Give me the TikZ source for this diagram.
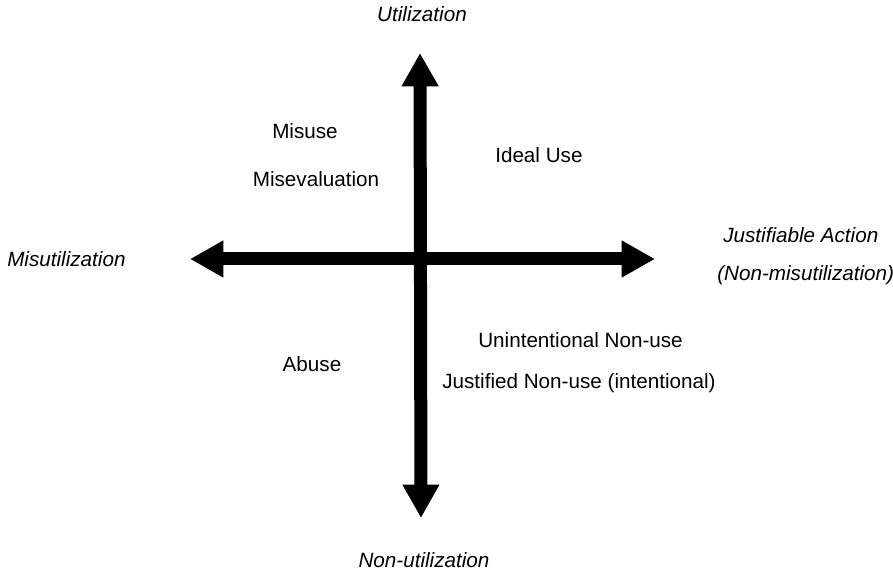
\documentclass[tikz,border=0pt]{standalone}
\usepackage{fontspec}
\setmainfont{Liberation Sans}
\usetikzlibrary{arrows.meta}
\begin{document}
\begin{tikzpicture}[x=0.75pt,y=-0.75pt,
  lbl/.style={font=\fontsize{15.5}{18}\selectfont, inner sep=0pt, anchor=base},
  lblw/.style={lbl, anchor=base west},
  ital/.style={font=\fontsize{15.5}{18}\selectfont\itshape, inner sep=0pt, anchor=base},
  italw/.style={ital, anchor=base west},
  axisline/.style={line width=9.75pt, draw=black,
    arrows={Triangle[length=25pt,width=26pt]-Triangle[length=25pt,width=26pt]}}
]
\useasboundingbox (0,0) rectangle (893,570);
\fill[white] (0,0) rectangle (893,570);
% axis ends
\coordinate (top) at (420,53);
\coordinate (bottom) at (421,518);
\coordinate (left) at (190,259);
\coordinate (right) at (655,259);
\draw[axisline] (left) -- (right);
\draw[axisline] (top) -- (bottom);
% axis labels
\node[ital] (util) at (422,22) {Utilization};
\node[ital] (nonutil) at (424,567) {Non-utilization};
\node[italw] (misutil) at (7,267) {Misutilization};
\node[italw] (justact) at (723,243) {Justifiable Action};
\node[italw] (nonmis) at (717,281) {(Non-misutilization)};
% quadrant labels
\node[lbl] (misuse) at (305,139) {Misuse};
\node[lbl] (miseval) at (316,187) {Misevaluation};
\node[lblw] (ideal) at (495,163) {Ideal Use};
\node[lbl] (abuse) at (312,372) {Abuse};
\node[lblw] (unint) at (478,348) {Unintentional Non-use};
\node[lblw] (justnon) at (442,388) {Justified Non-use (intentional)};
\end{tikzpicture}
\end{document}
